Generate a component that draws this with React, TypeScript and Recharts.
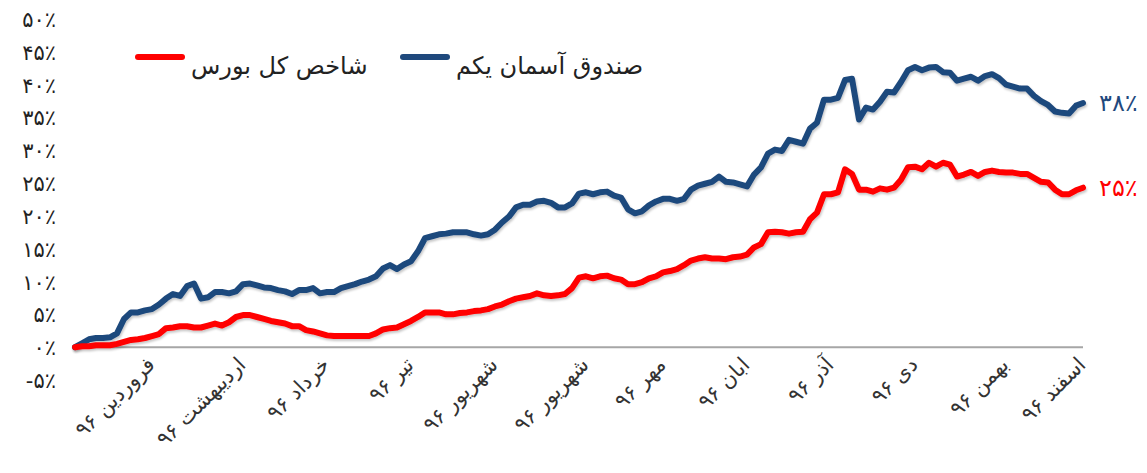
import React from 'react';
import { LineChart, Line, XAxis, YAxis, ReferenceLine } from 'recharts';

// trading-day index along the year 1396
const days: number[] = Array.from({ length: 145 }, (_, i) => i + 1);

// صندوق آسمان یکم (cumulative return, %)
const fundValues: number[] = [
  0, 0.6, 1.2, 1.4, 1.4, 1.5, 2.1, 4.3, 5.3, 5.3,
  5.6, 5.8, 6.5, 7.4, 8.1, 7.8, 9.3, 9.7, 7.4, 7.6,
  8.4, 8.4, 8.2, 8.5, 9.6, 9.7, 9.4, 9.1, 9.0, 8.7,
  8.5, 8.1, 8.7, 8.7, 9.0, 8.2, 8.4, 8.4, 9.0, 9.3,
  9.6, 10.0, 10.3, 10.8, 12.0, 12.5, 11.9, 12.6, 13.1, 14.6,
  16.6, 16.9, 17.2, 17.3, 17.5, 17.5, 17.5, 17.2, 17.0, 17.2,
  17.9, 19.0, 19.9, 21.3, 21.7, 21.7, 22.2, 22.3, 22.0, 21.3,
  21.3, 21.9, 23.4, 23.6, 23.3, 23.6, 23.7, 23.1, 22.8, 21.0,
  20.4, 20.7, 21.6, 22.2, 22.6, 22.6, 22.3, 22.6, 24.0, 24.6,
  24.9, 25.2, 26.0, 25.2, 25.1, 24.8, 24.5, 26.3, 27.4, 29.5,
  30.1, 29.9, 31.6, 31.3, 31.0, 33.3, 34.2, 37.7, 37.7, 38.0,
  40.7, 40.9, 34.7, 36.5, 36.2, 37.4, 38.9, 38.8, 40.4, 42.2,
  42.7, 42.2, 42.6, 42.7, 41.9, 41.8, 40.6, 40.9, 41.2, 40.6,
  41.3, 41.6, 41.0, 40.0, 39.7, 39.4, 39.4, 38.3, 37.5, 36.9,
  35.9, 35.7, 35.6, 36.8, 37.2,
];

// شاخص کل بورس (cumulative return, %)
const indexValues: number[] = [
  0, 0.15, 0.15, 0.3, 0.3, 0.3, 0.5, 0.8, 1.1, 1.2,
  1.4, 1.7, 2.0, 2.9, 3.0, 3.2, 3.2, 3.0, 3.0, 3.3,
  3.6, 3.3, 3.8, 4.6, 4.9, 4.9, 4.6, 4.3, 4.0, 3.8,
  3.6, 3.2, 3.2, 2.6, 2.4, 2.1, 1.8, 1.7, 1.7, 1.7,
  1.7, 1.7, 1.7, 2.1, 2.7, 2.9, 3.0, 3.5, 4.0, 4.6,
  5.3, 5.3, 5.3, 5.0, 5.0, 5.2, 5.3, 5.5, 5.6, 5.8,
  6.2, 6.5, 7.0, 7.4, 7.6, 7.8, 8.2, 7.9, 7.8, 7.9,
  8.1, 9.0, 10.6, 10.8, 10.5, 10.8, 10.9, 10.5, 10.3, 9.6,
  9.6, 9.9, 10.5, 10.8, 11.4, 11.6, 11.9, 12.5, 13.2, 13.5,
  13.7, 13.5, 13.5, 13.4, 13.7, 13.8, 14.1, 15.2, 15.7, 17.5,
  17.6, 17.5, 17.3, 17.5, 17.6, 19.5, 20.5, 23.3, 23.3, 23.6,
  27.1, 26.4, 24.0, 24.0, 23.7, 24.2, 24.0, 24.3, 25.5, 27.4,
  27.5, 27.1, 28.1, 27.5, 28.1, 27.8, 26.0, 26.3, 26.7, 26.1,
  26.7, 26.9, 26.7, 26.6, 26.6, 26.4, 26.4, 25.8, 25.2, 25.1,
  24.0, 23.3, 23.3, 23.9, 24.3,
];

const monthLabels: string[] = [
  'فروردین ۹۶', 'اردیبهشت ۹۶', 'خرداد ۹۶', 'تیر ۹۶', 'شهریور ۹۶', 'شهریور ۹۶',
  'مهر ۹۶', 'ابان ۹۶', 'آذر ۹۶', 'دی ۹۶', 'بهمن ۹۶', 'اسفند ۹۶',
];
const monthTickDays: number[] = [12, 25, 37, 49, 61, 74, 85, 97, 109, 121, 134, 145];

const yTicks: number[] = [-5, 0, 5, 10, 15, 20, 25, 30, 35, 40, 45, 50];

const fundName = 'صندوق آسمان یکم';
const indexName = 'شاخص کل بورس';
const fundEndLabel = 38;
const indexEndLabel = 25;

const BLUE = '#1F497D';
const RED = '#FF0000';
const FONT = '"DejaVu Sans", sans-serif';

const data = days.map((d, i) => ({ day: d, fund: fundValues[i], index: indexValues[i] }));

const faDigits = '۰۱۲۳۴۵۶۷۸۹';
const toFa = (n: number) => String(n).replace(/\d/g, (c) => faDigits[Number(c)]);
const pct = (n: number) => `${toFa(n)}٪`;

const YTick = (props: any) => {
  const { y, payload } = props;
  return (
    <text x={56} y={y} dy={8} textAnchor="end" fontSize={21} fill="#222" fontFamily={FONT} direction="ltr">
      {pct(payload.value)}
    </text>
  );
};

const XTick = (props: any) => {
  const { x, y, payload } = props;
  const idx = monthTickDays.indexOf(payload.value);
  if (idx < 0) return null;
  const ax = x + 4;
  const ay = y - 22;
  return (
    <text
      x={ax}
      y={ay}
      transform={`rotate(-45 ${ax} ${ay})`}
      textAnchor="start"
      direction="rtl"
      fontSize={21}
      fill="#333"
      fontFamily={FONT}
    >
      {monthLabels[idx]}
    </text>
  );
};

const endLabel = (color: string, value: number) => (props: any) => {
  const { x, y, index } = props;
  if (index !== data.length - 1) return null;
  return (
    <text key="end" x={x + 16} y={y} dy={8} fontSize={24} fill={color} fontFamily={FONT} direction="ltr">
      {pct(value)}
    </text>
  );
};

const LegendItem = ({ color, name, left }: { color: string; name: string; left: number }) => (
  <div style={{ position: 'absolute', left, top: 46, display: 'flex', alignItems: 'flex-start' }}>
    <div style={{ width: 50, height: 6, borderRadius: 3, background: color, marginTop: 8, marginRight: 6 }} />
    <span style={{ fontSize: 24, fontFamily: FONT, color: '#222', lineHeight: '40px', direction: 'rtl', whiteSpace: 'nowrap' }}>
      {name}
    </span>
  </div>
);

export default function App() {
  return (
    <div style={{ position: 'fixed', left: 0, top: 0, width: 1147, height: 473, background: '#fff' }}>
      <LineChart width={1147} height={473} data={data} margin={{ top: 19, right: 64, bottom: 63, left: 0 }}>
        <defs>
          <filter id="lineShadow" x="-5%" y="-10%" width="110%" height="130%">
            <feDropShadow dx="1" dy="2" stdDeviation="1.2" floodColor="#000" floodOpacity="0.22" />
          </filter>
        </defs>
        <XAxis
          dataKey="day"
          type="category"
          ticks={monthTickDays}
          interval={0}
          axisLine={false}
          tickLine={false}
          height={30}
          tick={<XTick />}
        />
        <YAxis
          type="number"
          domain={[-5, 50]}
          ticks={yTicks}
          interval={0}
          axisLine={false}
          tickLine={false}
          width={75}
          tick={<YTick />}
        />
        <ReferenceLine y={0} stroke="#A6A6A6" strokeWidth={2} />
        <Line
          type="linear"
          dataKey="fund"
          name={fundName}
          stroke={BLUE}
          strokeWidth={6}
          dot={false}
          strokeLinejoin="round"
          strokeLinecap="round"
          filter="url(#lineShadow)"
          isAnimationActive={false}
          label={endLabel(BLUE, fundEndLabel)}
        />
        <Line
          type="linear"
          dataKey="index"
          name={indexName}
          stroke={RED}
          strokeWidth={6}
          dot={false}
          strokeLinejoin="round"
          strokeLinecap="round"
          filter="url(#lineShadow)"
          isAnimationActive={false}
          label={endLabel(RED, indexEndLabel)}
        />
      </LineChart>
      <LegendItem color={RED} name={indexName} left={135} />
      <LegendItem color={BLUE} name={fundName} left={400} />
    </div>
  );
}
